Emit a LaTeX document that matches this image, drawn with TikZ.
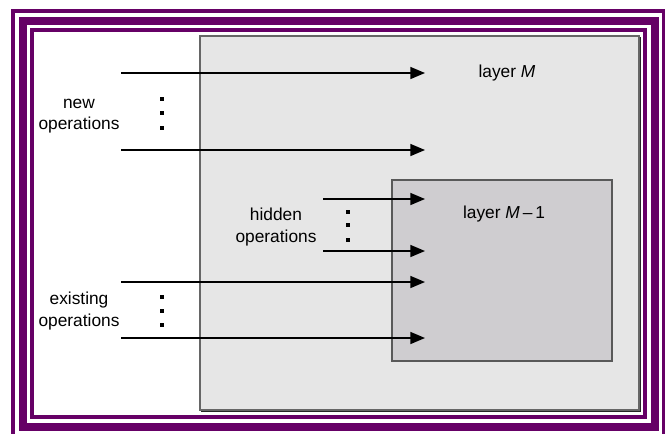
\documentclass[tikz,border=0pt]{standalone}
\usepackage{fontspec}
\setmainfont{Liberation Sans}
\usetikzlibrary{arrows.meta}

\definecolor{framepurple}{RGB}{102,0,102}
\definecolor{layerouter}{RGB}{230,230,230}
\definecolor{layerinner}{RGB}{207,205,208}

\begin{document}
\begin{tikzpicture}[x=0.75pt,y=0.75pt,yscale=-1,xscale=1,
  oparrow/.style={line width=1.1pt,-{Triangle[length=11pt,width=9pt]}},
  oplabel/.style={align=center,font=\fontsize{13}{16}\selectfont,inner sep=0.75pt},
  layerlabel/.style={font=\fontsize{13}{16}\selectfont,inner sep=0.75pt},
  opdot/.style={fill=black,minimum size=2.4pt,inner sep=0pt}]
\useasboundingbox (0,0) rectangle (670,433);

%Shape: Frame (three purple borders)
\draw [framepurple,line width=2.6pt] (13,11) rectangle (663.5,445);
\draw [framepurple,line width=6pt] (22.5,21) rectangle (654.5,426.5);
\draw [framepurple,line width=3pt] (31.5,30.3) rectangle (645,416.5);

%Shape: Rectangle, layer M (with shadow)
\draw [black!85,line width=1.3pt] (201.5,37.5) rectangle (640.5,411.5);
\draw [fill=layerouter,draw=black!60,line width=1pt] (200,36) rectangle (639,410);
%Shape: Rectangle, layer M-1
\draw [fill=layerinner,draw=black!65,line width=1pt] (392,180) rectangle (612,361);

% Text Node
\node [layerlabel] (layerM) at (507,73) {layer \textit{M}};
% Text Node
\node [layerlabel] (layerMm) at (504,214) {layer \textit{M}\,–\,1};
% Text Node
\node [oplabel] (newops) at (79,116) {new\\operations};
% Text Node
\node [oplabel] (hiddenops) at (276,227) {hidden\\operations};
% Text Node
\node [oplabel] (existops) at (79,311) {existing\\operations};

%Shape: Dots
\node [opdot] (newdota) at (162,99) {};
\node [opdot] (newdotb) at (162,113) {};
\node [opdot] (newdotc) at (162,128) {};
\node [opdot] (hiddendota) at (348,212) {};
\node [opdot] (hiddendotb) at (348,225) {};
\node [opdot] (hiddendotc) at (348,240) {};
\node [opdot] (existdota) at (162,297) {};
\node [opdot] (existdotb) at (162,311) {};
\node [opdot] (existdotc) at (162,325) {};

%Straight Lines, arrow ends
\coordinate (newtop) at (121,73);
\coordinate (newtopend) at (425,73);
\coordinate (newbot) at (121,150);
\coordinate (newbotend) at (425,150);
\coordinate (hiddentop) at (323,199);
\coordinate (hiddentopend) at (425,199);
\coordinate (hiddenbot) at (323,251);
\coordinate (hiddenbotend) at (425,251);
\coordinate (existtop) at (121,282);
\coordinate (existtopend) at (425,282);
\coordinate (existbot) at (121,338);
\coordinate (existbotend) at (425,338);

%Straight Lines
\draw [oparrow] (newtop) -- (newtopend);
\draw [oparrow] (newbot) -- (newbotend);
\draw [oparrow] (hiddentop) -- (hiddentopend);
\draw [oparrow] (hiddenbot) -- (hiddenbotend);
\draw [oparrow] (existtop) -- (existtopend);
\draw [oparrow] (existbot) -- (existbotend);

\end{tikzpicture}
\end{document}
